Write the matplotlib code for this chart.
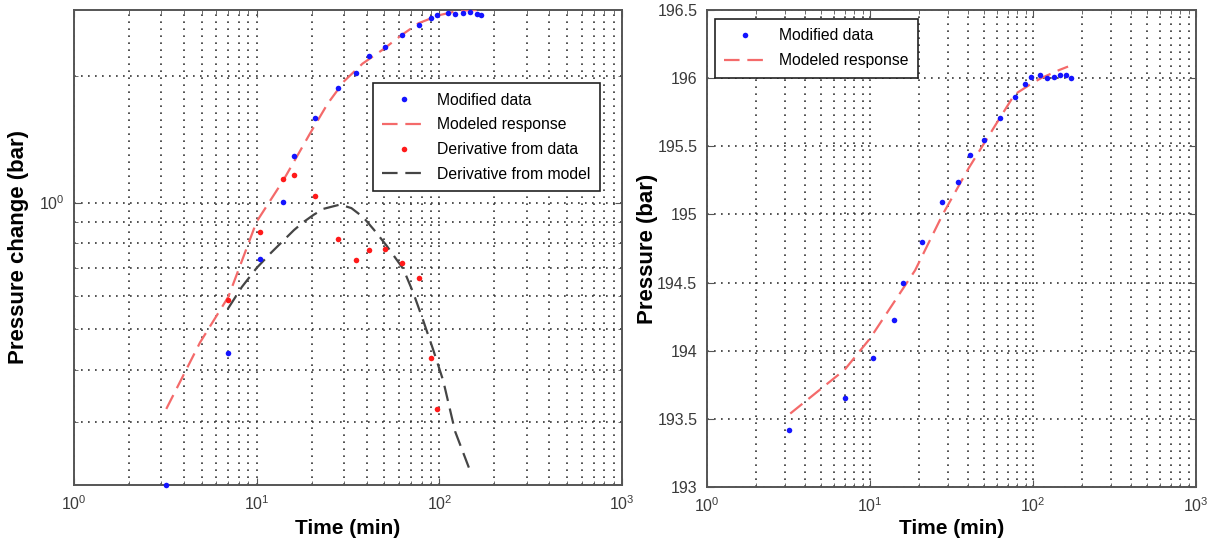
import math
import matplotlib
matplotlib.use('Agg')
import matplotlib.pyplot as plt
from matplotlib.ticker import LogLocator, NullFormatter, FuncFormatter, MultipleLocator

# measured times (min)
t_data = [3.2, 7.0, 10.4, 14.0, 16.0, 20.8, 27.8, 34.8, 41.2, 50.2,
          62.5, 77.8, 89.5, 97.5, 111, 122, 134, 147, 160, 170]
# left panel: pressure change (bar)
dp_data = [0.213, 0.438, 0.734, 1.003, 1.293, 1.585, 1.876, 2.03, 2.227, 2.34,
           2.50, 2.65, 2.75, 2.80, 2.83, 2.81, 2.83, 2.84, 2.81, 2.79]
t_deriv = [7.0, 10.4, 14.0, 16.0, 20.8, 27.8, 34.8, 41.2, 50.2, 62.5, 77.8, 89.5, 97.5]
deriv_data = [0.587, 0.851, 1.137, 1.163, 1.038, 0.819, 0.730, 0.772, 0.775,
              0.720, 0.662, 0.428, 0.323]
t_model = [3.2, 4.9, 7.0, 10.0, 14.0, 19.6, 24.5, 30.2, 38.0, 49.0, 62.0, 77.0, 100, 128, 163]
dp_model = [0.323, 0.465, 0.597, 0.901, 1.13, 1.46, 1.72, 1.946, 2.14, 2.31, 2.50, 2.67,
            2.79, 2.86, 2.87]
t_dmodel = [6.94, 8.3, 10.0, 12.0, 14.0, 16.0, 18.0, 20.5, 23.2, 28.6, 33.0, 38.3, 44.0,
            51.4, 63.5, 72.0, 81.6, 92.0, 105, 122, 148]
deriv_model = [0.558, 0.63, 0.699, 0.76, 0.812, 0.86, 0.898, 0.935, 0.966, 0.989, 0.97,
               0.923, 0.86, 0.79, 0.695, 0.61, 0.524, 0.45, 0.377, 0.2855, 0.229]
# right panel: pressure (bar)
p_data = [193.42, 193.65, 193.946, 194.225, 194.50, 194.80, 195.094, 195.24, 195.433, 195.543,
          195.705, 195.86, 195.955, 196.01, 196.02, 196.0, 196.01, 196.025, 196.02, 196.0]
t_rmodel = [3.24, 6.98, 10.0, 18.9, 27.9, 40.3, 62, 77, 98, 112, 145, 164]
p_model = [193.539, 193.86, 194.09, 194.59, 195.0, 195.34, 195.70, 195.88,
           195.96, 196.0, 196.06, 196.085]

plt.rcParams['font.family'] = ['Liberation Sans', 'DejaVu Sans']
plt.rcParams['mathtext.fontset'] = 'custom'
plt.rcParams['mathtext.rm'] = 'Liberation Sans'
plt.rcParams['mathtext.it'] = 'Liberation Sans'

BLUE = '#1414ff'
RED = '#ff1a1a'
MODEL_RED = '#f46a6a'
MODEL_GREY = '#454545'
FRAME = '#555555'
DASH = (7, 3.5)

fig = plt.figure(figsize=(12.09, 5.49), dpi=100)
ax1 = fig.add_axes([0.0612, 0.1166, 0.4533, 0.8652])
ax2 = fig.add_axes([0.5848, 0.1129, 0.4045, 0.8689])

pow10 = FuncFormatter(lambda v, p: r'$10^{%d}$' % round(math.log10(v)))


def style(ax):
    ax.grid(True, which='both', color='#333333', linestyle=(0, (1, 3.2)), lw=1.2)
    ax.tick_params(which='both', direction='in', top=True, right=True,
                   labelsize=11.5, labelcolor='#3a3a3a', color=FRAME)
    ax.tick_params(which='major', length=5, pad=7)
    ax.tick_params(which='minor', length=3)
    for s in ax.spines.values():
        s.set_color(FRAME)
        s.set_linewidth(1.4)
    ax.set_xscale('log')
    ax.set_xlim(1, 1000)
    ax.xaxis.set_major_locator(LogLocator(base=10))
    ax.xaxis.set_minor_locator(LogLocator(base=10, subs=range(2, 10)))
    ax.xaxis.set_major_formatter(pow10)
    ax.xaxis.set_minor_formatter(NullFormatter())
    ax.set_axisbelow(True)


def legend(ax, **kw):
    leg = ax.legend(borderaxespad=0, fontsize=11.3, numpoints=1, handlelength=2.7,
                    labelspacing=0.62, fancybox=False, framealpha=1,
                    edgecolor='#222222', borderpad=0.6, **kw)
    leg.get_frame().set_linewidth(1.2)


# left: log-log diagnostic plot
style(ax1)
ax1.set_yscale('log')
ax1.set_ylim(0.213, 2.87)
ax1.yaxis.set_major_locator(LogLocator(base=10))
ax1.yaxis.set_minor_locator(LogLocator(base=10, subs=range(2, 10)))
ax1.yaxis.set_major_formatter(pow10)
ax1.yaxis.set_minor_formatter(NullFormatter())

ax1.plot(t_data, dp_data, 'o', color=BLUE, ms=4, mew=0, clip_on=False,
         label='Modified data', zorder=4)
ax1.plot(t_model, dp_model, color=MODEL_RED, lw=1.6, dashes=DASH,
         label='Modeled response', zorder=3)
ax1.plot(t_deriv, deriv_data, 'o', color=RED, ms=4, mew=0,
         label='Derivative from data', zorder=4)
ax1.plot(t_dmodel, deriv_model, color=MODEL_GREY, lw=1.6, dashes=DASH,
         label='Derivative from model', zorder=3)
ax1.set_xlabel('Time (min)', fontsize=15, fontweight='bold')
ax1.set_ylabel('Pressure change (bar)', fontsize=16, fontweight='bold')
ax1.xaxis.set_label_coords(0.5, -0.072)
ax1.yaxis.set_label_coords(-0.082, 0.5)
legend(ax1, loc='upper right', bbox_to_anchor=(0.96, 0.846))

# right: semilog pressure plot
style(ax2)
ax2.set_ylim(193, 196.5)
ax2.yaxis.set_major_locator(MultipleLocator(0.5))
ax2.yaxis.set_major_formatter(FuncFormatter(lambda v, p: '%g' % v))
ax2.grid(False, which='minor', axis='y')
ax2.plot(t_data, p_data, 'o', color=BLUE, ms=4, mew=0, label='Modified data', zorder=4)
ax2.plot(t_rmodel, p_model, color=MODEL_RED, lw=1.6, dashes=DASH,
         label='Modeled response', zorder=3)
ax2.set_xlabel('Time (min)', fontsize=15, fontweight='bold')
ax2.set_ylabel('Pressure (bar)', fontsize=16, fontweight='bold')
ax2.xaxis.set_label_coords(0.5, -0.068)
ax2.yaxis.set_label_coords(-0.1, 0.5)
legend(ax2, loc='upper left', bbox_to_anchor=(0.016, 0.981))

plt.savefig('out.png', dpi=100)
